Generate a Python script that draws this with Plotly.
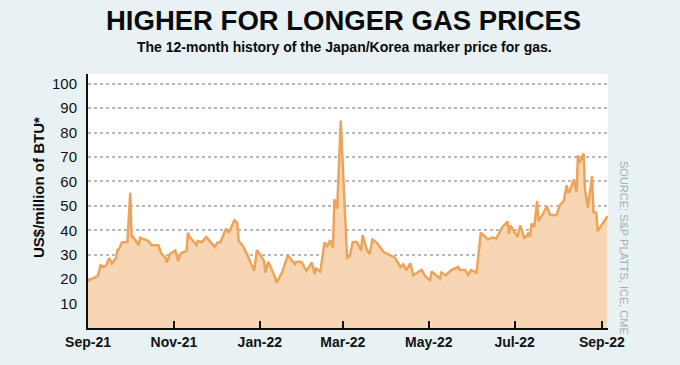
import plotly.graph_objects as go

dates = [
    "2021-09-01", "2021-09-08", "2021-09-10", "2021-09-12", "2021-09-14", "2021-09-16",
    "2021-09-18", "2021-09-21", "2021-09-22", "2021-09-23", "2021-09-25", "2021-09-28",
    "2021-09-29", "2021-10-01", "2021-10-02", "2021-10-03", "2021-10-06", "2021-10-07",
    "2021-10-08", "2021-10-13", "2021-10-15", "2021-10-16", "2021-10-21", "2021-10-23",
    "2021-10-26", "2021-10-27", "2021-10-29", "2021-11-01", "2021-11-02", "2021-11-04",
    "2021-11-06", "2021-11-10", "2021-11-11", "2021-11-12", "2021-11-17", "2021-11-18",
    "2021-11-21", "2021-11-24", "2021-11-30", "2021-12-02", "2021-12-04", "2021-12-08",
    "2021-12-10", "2021-12-14", "2021-12-16", "2021-12-17", "2021-12-20", "2021-12-23",
    "2021-12-28", "2021-12-30", "2022-01-04", "2022-01-05", "2022-01-07", "2022-01-11",
    "2022-01-13", "2022-01-17", "2022-01-19", "2022-01-21", "2022-01-26", "2022-01-27",
    "2022-01-30", "2022-01-31", "2022-02-03", "2022-02-07", "2022-02-09", "2022-02-10",
    "2022-02-13", "2022-02-16", "2022-02-18", "2022-02-20", "2022-02-22", "2022-02-23",
    "2022-02-25", "2022-02-27 12:00", "2022-03-04", "2022-03-06", "2022-03-08", "2022-03-11",
    "2022-03-14", "2022-03-15", "2022-03-18", "2022-03-20", "2022-03-22", "2022-03-25",
    "2022-03-30", "2022-04-03", "2022-04-07", "2022-04-11", "2022-04-13", "2022-04-15",
    "2022-04-18", "2022-04-20", "2022-04-26", "2022-04-28", "2022-05-02", "2022-05-03",
    "2022-05-09", "2022-05-10", "2022-05-13", "2022-05-17", "2022-05-22", "2022-05-23",
    "2022-05-27", "2022-05-29", "2022-05-31", "2022-06-04", "2022-06-07", "2022-06-12",
    "2022-06-15", "2022-06-18", "2022-06-22", "2022-06-26", "2022-06-27", "2022-06-28",
    "2022-07-03", "2022-07-05", "2022-07-08", "2022-07-11", "2022-07-12", "2022-07-13",
    "2022-07-15", "2022-07-17", "2022-07-18", "2022-07-21", "2022-07-24", "2022-07-26",
    "2022-07-30", "2022-07-31", "2022-08-02", "2022-08-05", "2022-08-07", "2022-08-08",
    "2022-08-09", "2022-08-12", "2022-08-14", "2022-08-15", "2022-08-16", "2022-08-19",
    "2022-08-20", "2022-08-22", "2022-08-25", "2022-08-26", "2022-08-28", "2022-08-29",
    "2022-09-05",
]
prices = [
    19.3, 21.3, 25.7, 25.0, 25.7, 28.6,
    26.4, 28.8, 32.0, 32.2, 35.0, 35.0,
    35.2, 55.4, 37.0, 37.4, 35.0, 33.9,
    37.0, 35.9, 35.0, 33.9, 33.9, 30.6,
    28.8, 26.8, 30.2, 31.1, 31.7, 27.5,
    30.6, 31.6, 39.0, 37.4, 34.0, 35.6,
    35.2, 37.3, 33.2, 35.0, 35.0, 40.7,
    39.0, 44.1, 43.1, 35.6, 33.6, 30.2,
    23.4, 32.0, 27.5, 22.7, 27.1, 22.0,
    18.6, 23.0, 26.1, 29.8, 26.1, 27.1,
    27.1, 26.8, 23.4, 26.8, 22.0, 24.3,
    23.1, 35.0, 33.6, 35.9, 32.9, 52.7,
    48.9, 84.9, 28.8, 29.5, 35.2, 35.2,
    31.6, 38.0, 32.2, 30.2, 36.3, 35.0,
    31.1, 29.8, 28.8, 25.0, 26.1, 23.7,
    26.5, 21.6, 23.8, 21.6, 19.3, 23.1,
    20.3, 22.7, 21.6, 23.7, 25.0, 23.7,
    23.7, 21.8, 23.7, 22.7, 39.0, 36.3,
    37.0, 36.6, 41.1, 43.6, 38.6, 42.0,
    37.3, 42.0, 36.6, 39.0, 37.3, 42.7,
    41.5, 52.0, 43.8, 46.5, 49.9, 46.5,
    46.1, 46.5, 50.2, 52.2, 58.5, 55.8,
    55.7, 60.8, 55.7, 70.7, 67.6, 71.4,
    56.7, 49.3, 62.2, 47.5, 47.2, 39.7,
    45.8,
]

x_tick_vals = ["2021-09-01", "2021-11-01", "2022-01-01", "2022-03-01",
               "2022-05-01", "2022-07-01", "2022-09-01"]
x_tick_text = ["Sep-21", "Nov-21", "Jan-22", "Mar-22", "May-22", "Jul-22", "Sep-22"]
y_tick_vals = [10, 20, 30, 40, 50, 60, 70, 80, 90, 100]

title = "HIGHER FOR LONGER GAS PRICES"
subtitle = "The 12-month history of the Japan/Korea marker price for gas."
y_title = "US$/million of BTU*"
source = "SOURCE: S&P PLATTS, ICE, CME"

FONT = "Liberation Sans, Arial, Helvetica, sans-serif"

fig = go.Figure()
fig.add_trace(go.Scatter(
    x=dates, y=prices, mode="lines",
    line=dict(color="#eca35a", width=2.5),
    fill="tozeroy", fillcolor="#f8d6b3",
    hoverinfo="skip",
))

fig.update_layout(
    width=680, height=365,
    margin=dict(l=88, r=72, t=74, b=37),
    paper_bgcolor="#e8f1f4",
    plot_bgcolor="#ffffff",
    showlegend=False,
    font=dict(family=FONT, color="#111111"),
    xaxis=dict(
        type="date",
        range=["2021-09-01", "2022-09-05 08:00"],
        tickvals=x_tick_vals, ticktext=x_tick_text,
        tickfont=dict(family=FONT, size=14, color="#111111", weight="bold"),
        showgrid=False, zeroline=False,
        showline=True, linecolor="#111111", linewidth=2,
        ticks="inside", ticklen=7, tickwidth=1.5, tickcolor="#111111",
    ),
    yaxis=dict(
        range=[0, 104],
        tickvals=y_tick_vals,
        tickfont=dict(family=FONT, size=15, color="#111111"),
        showgrid=True, gridcolor="#b8b8b8", gridwidth=1.5, griddash="dot",
        zeroline=False,
        showline=True, linecolor="#111111", linewidth=2,
        ticks="", ticklabelstandoff=6,
    ),
    annotations=[
        dict(text=title, xref="paper", yref="paper", x=(343 - 88) / 520, y=(328 - 21) / 254,
             showarrow=False, xanchor="center", yanchor="middle",
             font=dict(family=FONT, size=27.5, color="#0a0a0a", weight="bold")),
        dict(text=subtitle, xref="paper", yref="paper", x=(344 - 88) / 520, y=(328 - 47) / 254,
             showarrow=False, xanchor="center", yanchor="middle",
             font=dict(family=FONT, size=14, color="#0a0a0a", weight="bold")),
        dict(text=y_title, xref="paper", yref="paper", x=(38 - 88) / 520, y=(328 - 188) / 254,
             showarrow=False, xanchor="center", yanchor="middle", textangle=-90,
             font=dict(family=FONT, size=15, color="#0a0a0a", weight="bold")),
        dict(text=source, xref="paper", yref="paper", x=(624 - 88) / 520, y=(328 - 248) / 254,
             showarrow=False, xanchor="center", yanchor="middle", textangle=90,
             font=dict(family=FONT, size=11, color="#a8adb0")),
    ],
)

fig.write_html(
    "out.html",
    config={"displayModeBar": False},
    post_script="document.body.style.margin='0';document.body.style.overflow='hidden';",
)
